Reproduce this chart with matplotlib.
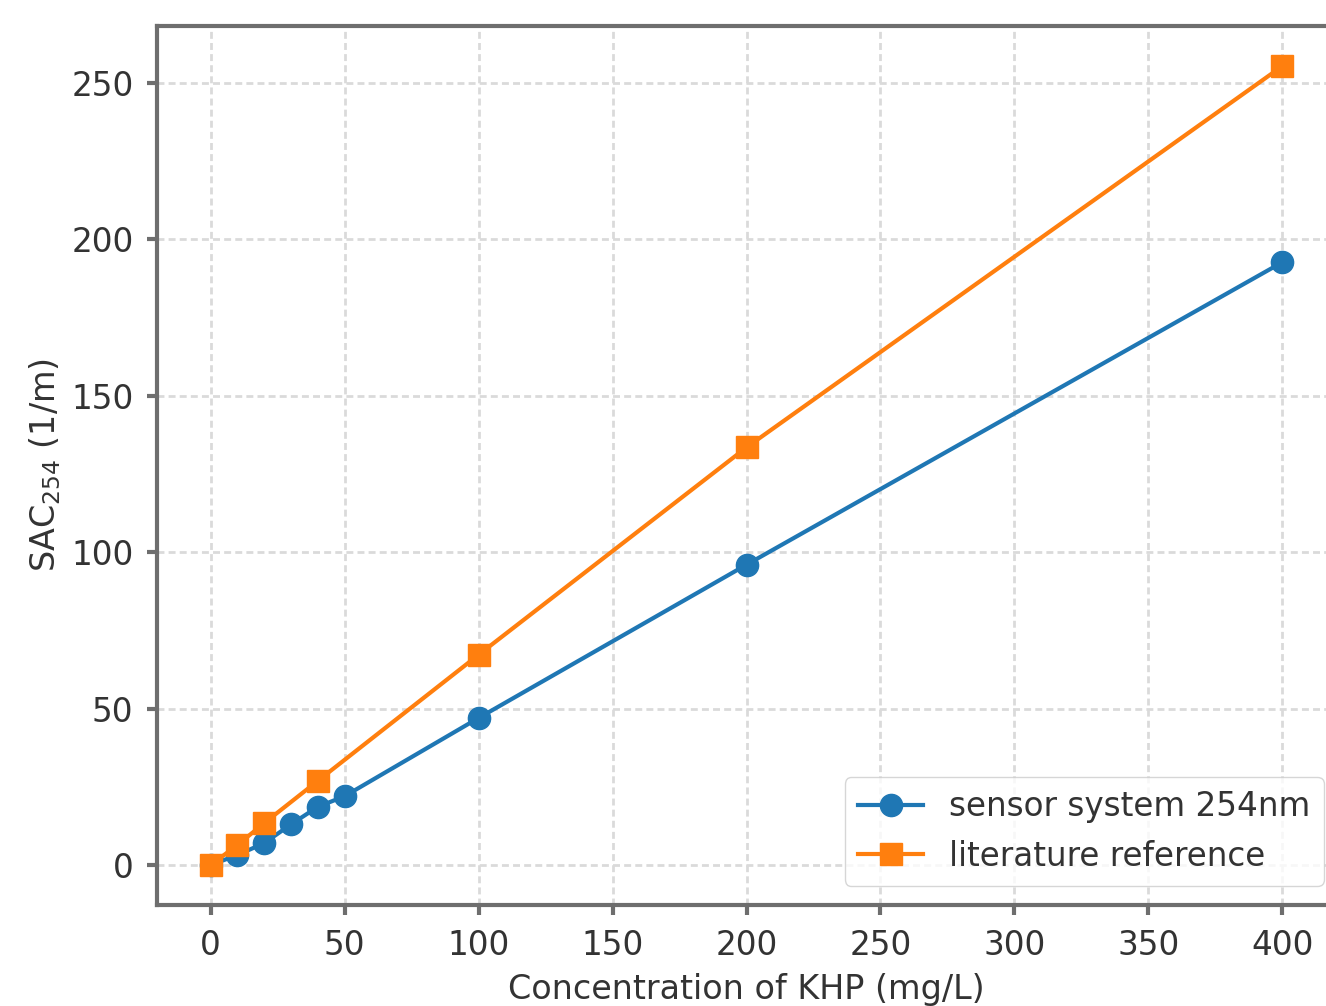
import matplotlib
matplotlib.use("Agg")
import matplotlib.pyplot as plt

conc_sensor = [0, 10, 20, 30, 40, 50, 100, 200, 400]
sac_sensor = [0, 3.2, 7, 13, 18.6, 22, 47, 96, 192.7]
conc_lit = [0, 10, 20, 40, 100, 200, 400]
sac_lit = [0, 6.4, 13.4, 26.9, 67.2, 133.5, 255.4]

fig = plt.figure(figsize=(13.26, 10.06), dpi=100)
# axes runs past the right edge, like the cropped original
ax = fig.add_axes([157 / 1326, 1 - 905 / 1006, 1179 / 1326, 879 / 1006])

ax.plot(conc_sensor, sac_sensor, "-o", color="#1f77b4", lw=3, ms=16,
        label="sensor system 254nm")
ax.plot(conc_lit, sac_lit, "-s", color="#ff7f0e", lw=3, ms=16,
        label="literature reference")

ax.set_xlim(-20, 420)
ax.set_ylim(-12.77, 268.2)
ax.set_xticks(range(0, 401, 50))
ax.set_yticks(range(0, 251, 50))
ax.grid(True, color="#dadada", linestyle=(0, (2.5, 1.5)), linewidth=2)

for s in ax.spines.values():
    s.set_color("#6e6e6e")
    s.set_linewidth(3)
ax.tick_params(labelsize=23.5, colors="#333333", width=3, length=7, pad=10,
               color="#6e6e6e")

ax.set_xlabel("Concentration of KHP (mg/L)", fontsize=24, color="#333333", labelpad=8)
ax.set_ylabel("SAC$_{254}$ (1/m)", fontsize=24, color="#333333", labelpad=6)

ax.legend(loc="lower right", fontsize=23.5, bbox_to_anchor=(1340 / 1326, 1 - 902 / 1006),
          bbox_transform=fig.transFigure, labelcolor="#333333", handlelength=2.0)

fig.savefig("out.png", dpi=100)
